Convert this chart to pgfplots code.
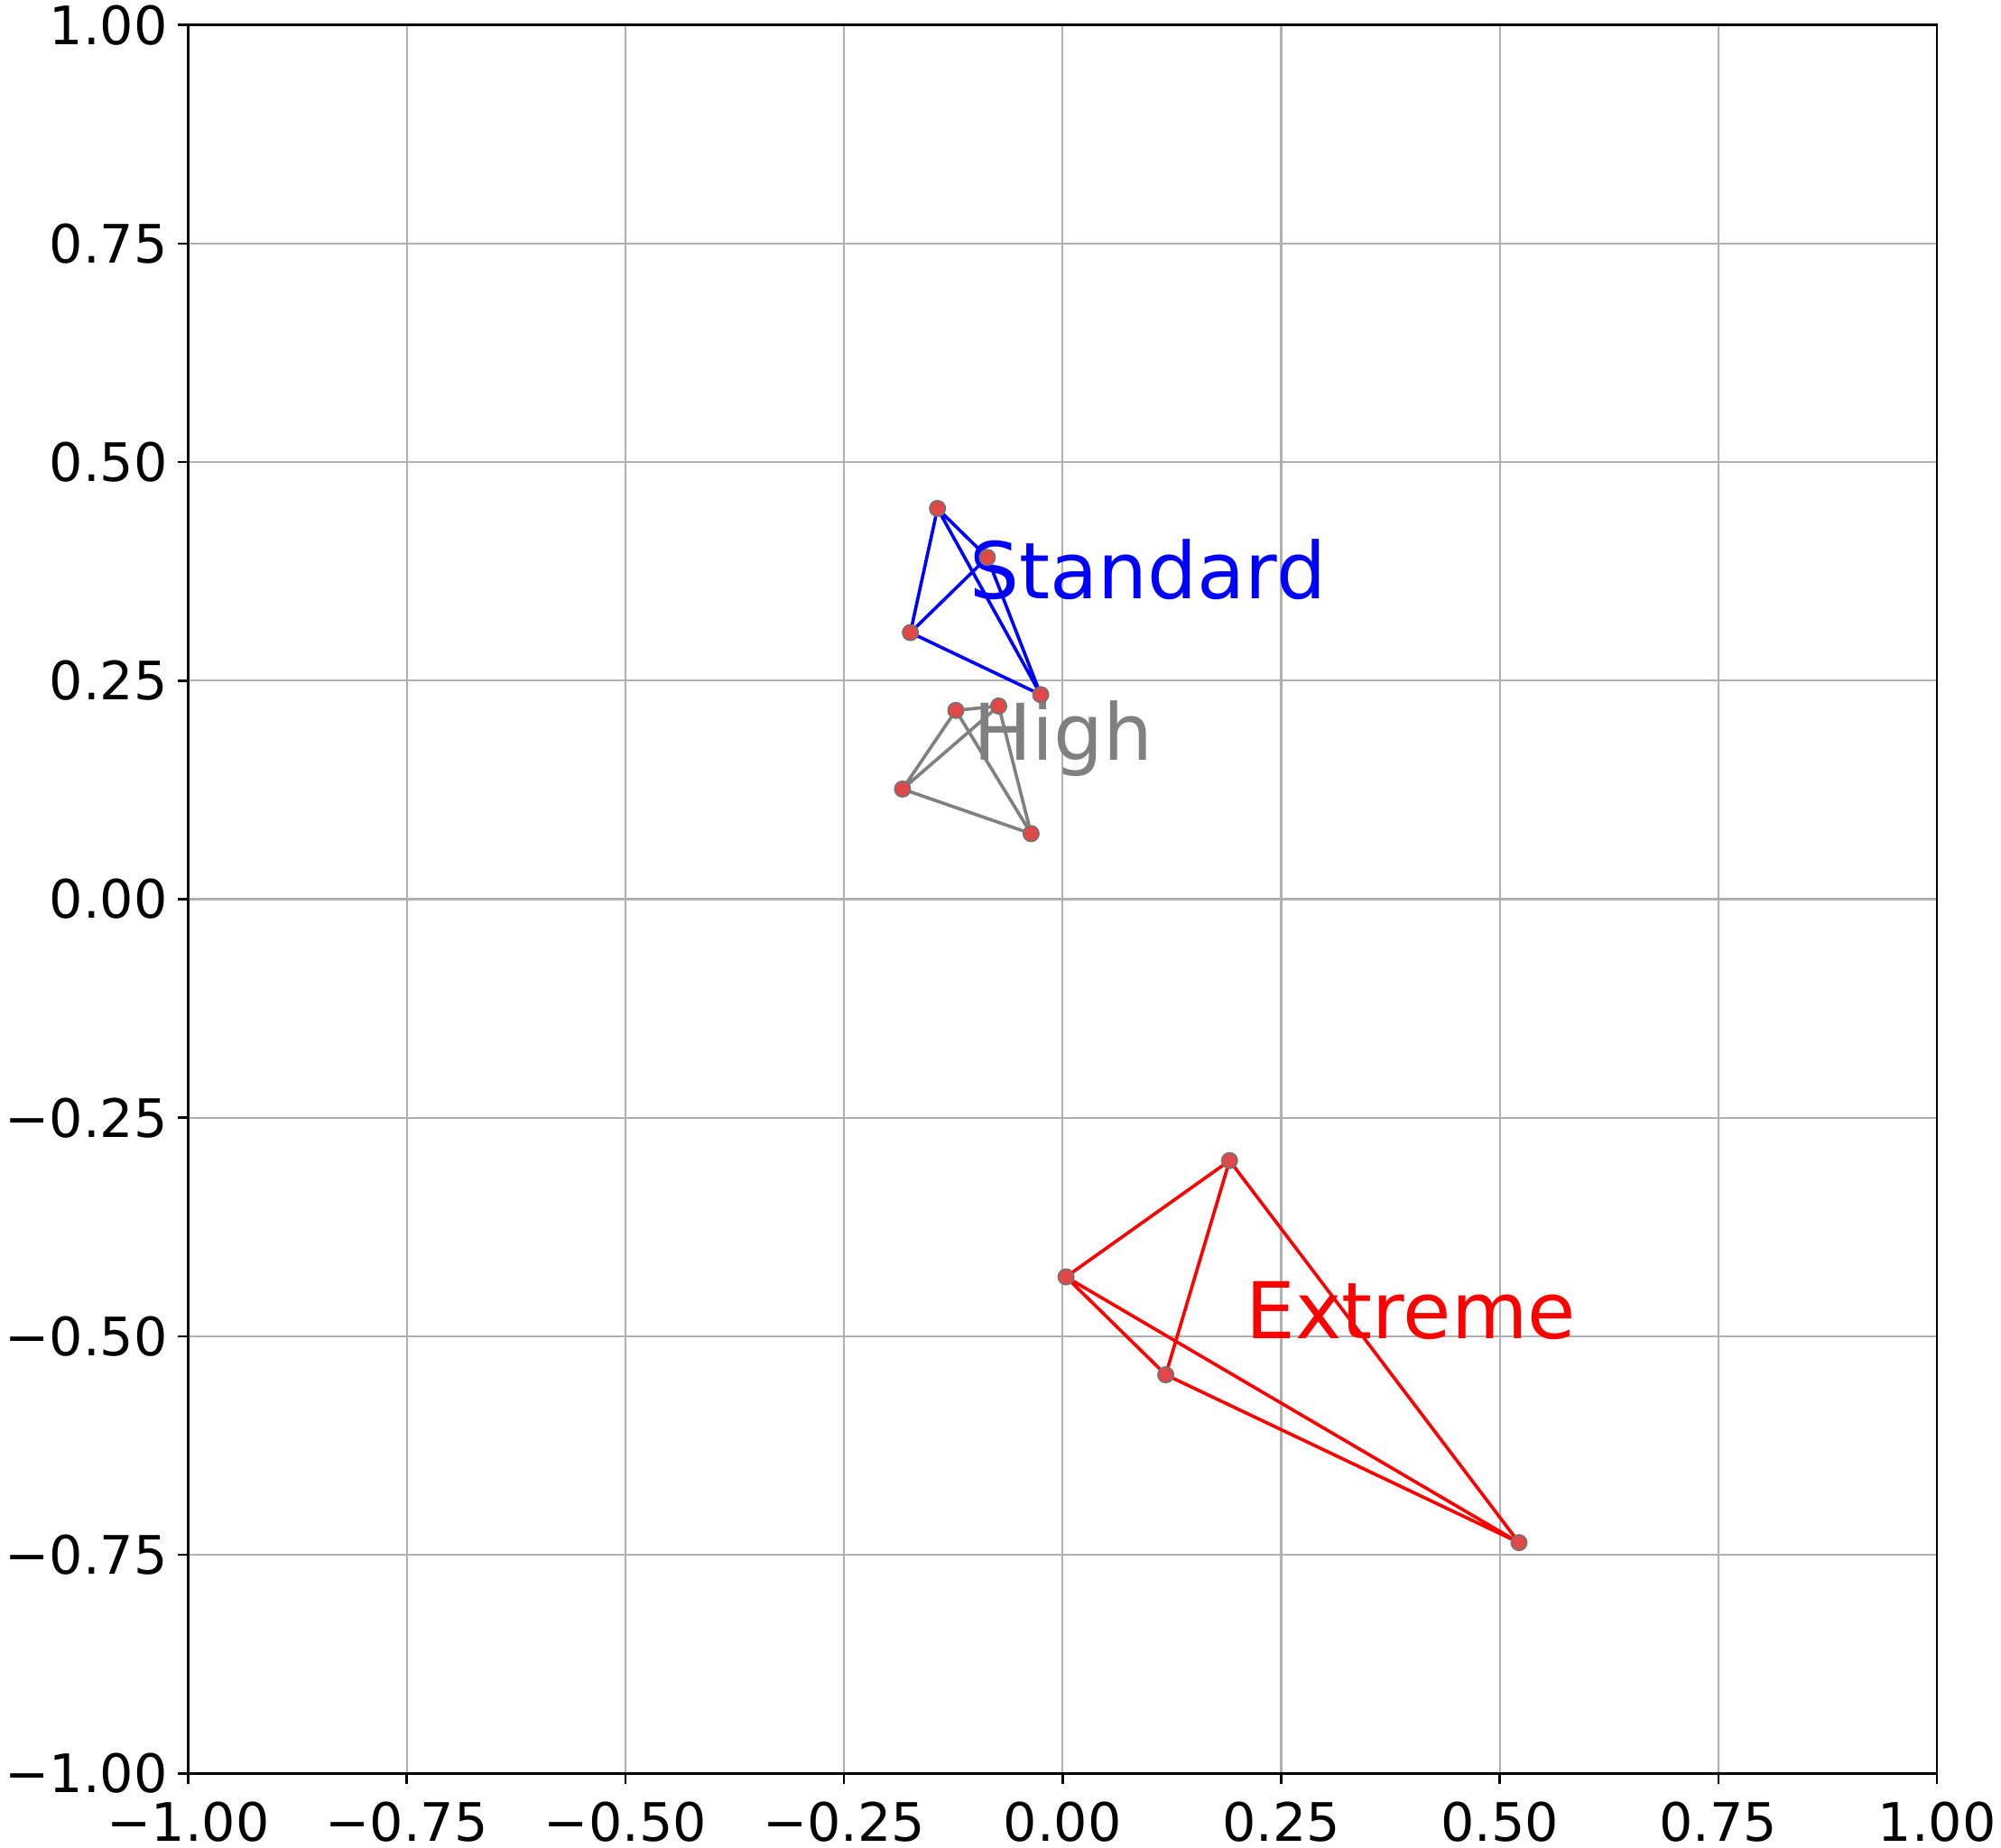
\documentclass[border=0pt]{standalone}
\usepackage{fontspec}
\setmainfont{DejaVu Sans}
\usepackage{pgfplots}
\pgfplotsset{compat=1.18}
\definecolor{gridgray}{HTML}{B0B0B0}
\definecolor{mkred}{HTML}{E04848}
\begin{document}
\begin{tikzpicture}
\begin{axis}[
  width=346.5pt, height=346.5pt, scale only axis,
  xmin=-1, xmax=1, ymin=-1, ymax=1,
  xtick={-1,-0.75,-0.5,-0.25,0,0.25,0.5,0.75,1},
  ytick={-1,-0.75,-0.5,-0.25,0,0.25,0.5,0.75,1},
  xticklabels={−1.00,−0.75,−0.50,−0.25,0.00,0.25,0.50,0.75,1.00},
  yticklabels={−1.00,−0.75,−0.50,−0.25,0.00,0.25,0.50,0.75,1.00},
  grid=major,
  major grid style={color=gridgray, line width=0.4pt},
  axis line style={line width=0.45pt},
  tick style={black, line width=0.45pt},
  tick align=outside, major tick length=2pt,
  xtick pos=bottom, ytick pos=left,
  tick label style={font=\fontsize{10.5}{12}\selectfont, inner sep=1pt},
  yticklabel style={xshift=-0.9pt},
  xticklabel style={yshift=-2.5pt},
  unbounded coords=jump,
]
% Standard (blue)
\addplot[blue, line width=0.65pt] coordinates {
  (-0.143,0.447) (-0.086,0.391) (-0.174,0.305) (-0.025,0.234) (-0.143,0.447) (-0.174,0.305)
  (nan,nan) (-0.086,0.391) (-0.025,0.234)};
% High (gray)
\addplot[gray, line width=0.65pt] coordinates {
  (-0.122,0.216) (-0.073,0.221) (-0.183,0.126) (-0.036,0.075) (-0.122,0.216) (-0.183,0.126)
  (nan,nan) (-0.073,0.221) (-0.036,0.075)};
% Extreme (red)
\addplot[red, line width=0.65pt] coordinates {
  (0.191,-0.299) (0.004,-0.432) (0.118,-0.544) (0.522,-0.736) (0.191,-0.299) (0.118,-0.544)
  (nan,nan) (0.004,-0.432) (0.522,-0.736)};
% markers
\addplot[only marks, mark=*, mark size=1.55pt,
  mark options={fill=mkred, draw=black!55, line width=0.3pt}] coordinates {
  (-0.143,0.447) (-0.086,0.391) (-0.174,0.305) (-0.025,0.234)
  (-0.122,0.216) (-0.073,0.221) (-0.183,0.126) (-0.036,0.075)
  (0.191,-0.299) (0.004,-0.432) (0.118,-0.544) (0.522,-0.736)};
\node[anchor=base west, inner sep=0pt, text=blue, font=\fontsize{15.5}{18}\selectfont] at (axis cs:-0.107,0.344) {Standard};
\node[anchor=base west, inner sep=0pt, text=gray, font=\fontsize{15.5}{18}\selectfont] at (axis cs:-0.1035,0.1595) {High};
\node[anchor=base west, inner sep=0pt, text=red, font=\fontsize{15.5}{18}\selectfont] at (axis cs:0.209,-0.503) {Extreme};
\end{axis}
\end{tikzpicture}
\end{document}
